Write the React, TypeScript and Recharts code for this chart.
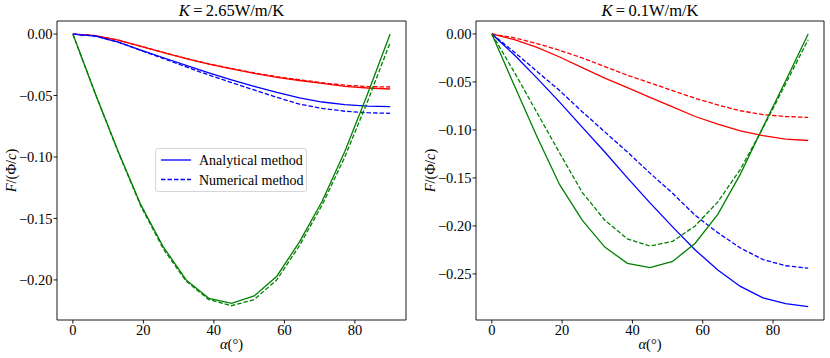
import {
  LineChart,
  Line,
  XAxis,
  YAxis,
  Legend,
  Customized,
} from 'recharts';

// incidence angle (deg), 15 samples
const ALPHA = [0, 6.43, 12.86, 19.29, 25.71, 32.14, 38.57, 45, 51.43, 57.86, 64.29, 70.71, 77.14, 83.57, 90];

// K = 2.65 W/m/K
const hiRedAna = [0, -0.0013, -0.005, -0.01, -0.0152, -0.02, -0.0245, -0.0283, -0.032, -0.0352, -0.0378, -0.0402, -0.0425, -0.0439, -0.0447];
const hiRedNum = [0, -0.0013, -0.005, -0.0099, -0.015, -0.0198, -0.0243, -0.028, -0.0316, -0.0347, -0.0372, -0.0396, -0.0416, -0.0427, -0.0431];
const hiBlueAna = [0, -0.0017, -0.0065, -0.013, -0.0193, -0.0255, -0.0315, -0.0372, -0.0425, -0.0475, -0.052, -0.0553, -0.0575, -0.0587, -0.0591];
const hiBlueNum = [0, -0.0017, -0.0066, -0.0133, -0.02, -0.0268, -0.0333, -0.0395, -0.0455, -0.0515, -0.057, -0.0605, -0.0628, -0.064, -0.0645];
const hiGreenAna = [0, -0.049, -0.0955, -0.139, -0.1734, -0.2, -0.215, -0.219, -0.213, -0.197, -0.169, -0.136, -0.0955, -0.049, 0];
const hiGreenNum = [0, -0.049, -0.096, -0.14, -0.175, -0.201, -0.216, -0.221, -0.216, -0.2, -0.172, -0.139, -0.1, -0.055, -0.007];

// K = 0.1 W/m/K
const loRedAna = [0, -0.006, -0.014, -0.024, -0.035, -0.046, -0.056, -0.066, -0.076, -0.086, -0.094, -0.101, -0.106, -0.1095, -0.111];
const loRedNum = [0, -0.004, -0.01, -0.017, -0.025, -0.034, -0.043, -0.051, -0.059, -0.067, -0.074, -0.08, -0.084, -0.086, -0.087];
const loBlueAna = [0, -0.022, -0.046, -0.071, -0.097, -0.123, -0.15, -0.176, -0.201, -0.225, -0.246, -0.263, -0.275, -0.281, -0.284];
const loBlueNum = [0, -0.019, -0.039, -0.059, -0.081, -0.102, -0.123, -0.145, -0.166, -0.189, -0.207, -0.223, -0.235, -0.2415, -0.244];
const loGreenAna = [0, -0.054, -0.107, -0.157, -0.194, -0.222, -0.239, -0.2435, -0.237, -0.218, -0.188, -0.146, -0.097, -0.049, 0];
const loGreenNum = [0, -0.04, -0.082, -0.124, -0.165, -0.194, -0.2135, -0.221, -0.216, -0.2, -0.175, -0.141, -0.098, -0.052, -0.006];

const X_TICKS = [0, 20, 40, 60, 80];
const HI_Y_TICKS = [0, -0.05, -0.1, -0.15, -0.2];
const LO_Y_TICKS = [0, -0.05, -0.1, -0.15, -0.2, -0.25];

const FONT = '"Liberation Serif", "DejaVu Serif", serif';
const serif = { fontFamily: FONT };

const fmtY = (v: number) => (v < 0 ? '\u2212' + Math.abs(v).toFixed(2) : v.toFixed(2));

function buildRows(series: number[][]) {
  return ALPHA.map((a, i) => ({
    a,
    rs: series[0][i],
    rd: series[1][i],
    bs: series[2][i],
    bd: series[3][i],
    gs: series[4][i],
    gd: series[5][i],
  }));
}

const hiRows = buildRows([hiRedAna, hiRedNum, hiBlueAna, hiBlueNum, hiGreenAna, hiGreenNum]);
const loRows = buildRows([loRedAna, loRedNum, loBlueAna, loBlueNum, loGreenAna, loGreenNum]);

const LegendBox = () => (
  <div
    style={{
      width: 150,
      height: 42,
      border: '1px solid #d6d6d6',
      borderRadius: 3,
      background: 'rgba(255,255,255,0.8)',
    }}
  >
    <svg width={150} height={42} style={{ display: 'block' }}>
      <line x1={5} x2={35} y1={11} y2={11} stroke="#0000ff" strokeWidth={1.3} />
      <text x={43} y={16} fontSize={14} style={serif}>Analytical method</text>
      <line x1={5} x2={35} y1={30.5} y2={30.5} stroke="#0000ff" strokeWidth={1.3} strokeDasharray="4.5 2" />
      <text x={43} y={35.5} fontSize={14} style={serif}>Numerical method</text>
    </svg>
  </div>
);

interface PanelProps {
  rows: ReturnType<typeof buildRows>;
  yDomain: [number, number];
  yTicks: number[];
  kText: string;
  marginLeft: number;
  marginRight: number;
  yLabelX: number;
  showLegend?: boolean;
}

// plot frame: top 21, bottom 320; axis widths eat into the margins
const Y_W = 50;
const X_H = 30;
const TOP_H = 5;
const RIGHT_W = 5;

function Panel({ rows, yDomain, yTicks, kText, marginLeft, marginRight, yLabelX, showLegend }: PanelProps) {
  const plotCx = marginLeft + (415 - marginLeft - marginRight) / 2;
  const texts = () => (
    <g fill="#000">
      <text x={plotCx} y={16} textAnchor="middle" fontSize={16.5} style={serif}>
        <tspan fontStyle="italic">K</tspan>
        <tspan>{'\u2009=\u2009' + kText}</tspan>
      </text>
      <text x={plotCx} y={349} textAnchor="middle" fontSize={14.5} style={serif}>
        <tspan fontStyle="italic">α</tspan>
        <tspan>(°)</tspan>
      </text>
      <text
        x={yLabelX}
        y={170.5}
        textAnchor="middle"
        fontSize={14.5}
        style={serif}
        transform={`rotate(-90 ${yLabelX} 170.5)`}
        dy={5}
      >
        <tspan fontStyle="italic">F</tspan>
        <tspan>/(Φ/</tspan>
        <tspan fontStyle="italic">c</tspan>
        <tspan>)</tspan>
      </text>
    </g>
  );

  const lineProps = { dot: false, isAnimationActive: false, strokeWidth: 1.3, type: 'linear' as const };

  return (
    <LineChart
      width={415}
      height={358}
      data={rows}
      margin={{ top: 21 - TOP_H, right: marginRight - RIGHT_W, bottom: 38 - X_H, left: marginLeft - Y_W }}
      style={serif}
    >
      <XAxis
        dataKey="a"
        type="number"
        domain={[-4.5, 94.5]}
        ticks={X_TICKS}
        allowDataOverflow
        height={X_H}
        tickSize={3.5}
        tickMargin={1.5}
        stroke="#000"
        strokeWidth={0.9}
        tick={{ fill: '#000', fontSize: 14.5, fontFamily: FONT }}
      />
      <XAxis
        xAxisId="top"
        orientation="top"
        dataKey="a"
        type="number"
        domain={[-4.5, 94.5]}
        height={TOP_H}
        tick={false}
        tickLine={false}
        stroke="#000"
        strokeWidth={0.9}
      />
      <YAxis
        type="number"
        domain={yDomain}
        ticks={yTicks}
        allowDataOverflow
        width={Y_W}
        tickSize={3.5}
        tickMargin={1}
        tickFormatter={fmtY}
        stroke="#000"
        strokeWidth={0.9}
        tick={{ fill: '#000', fontSize: 14.5, fontFamily: FONT }}
      />
      <YAxis
        yAxisId="right"
        orientation="right"
        type="number"
        domain={yDomain}
        width={RIGHT_W}
        tick={false}
        tickLine={false}
        stroke="#000"
        strokeWidth={0.9}
      />
      <Line dataKey="rs" stroke="#ff0000" {...lineProps} />
      <Line dataKey="rd" stroke="#ff0000" strokeDasharray="4.5 2" {...lineProps} />
      <Line dataKey="bs" stroke="#0000ff" {...lineProps} />
      <Line dataKey="bd" stroke="#0000ff" strokeDasharray="4.5 2" {...lineProps} />
      <Line dataKey="gs" stroke="#008000" {...lineProps} />
      <Line dataKey="gd" stroke="#008000" strokeDasharray="4.5 2" {...lineProps} />
      {showLegend && (
        <Legend
          layout="vertical"
          align="center"
          verticalAlign="middle"
          content={<LegendBox />}
          wrapperStyle={{ left: 155, top: 148, width: 152, height: 44 }}
        />
      )}
      <Customized component={texts} />
    </LineChart>
  );
}

export default function App() {
  return (
    <div style={{ position: 'absolute', left: 0, top: 0, width: 830, height: 358, background: '#fff' }}>
      <div style={{ position: 'absolute', left: 0, top: 0 }}>
        <Panel
          rows={hiRows}
          yDomain={[-0.2326, 0.0106]}
          yTicks={HI_Y_TICKS}
          kText="2.65W/m/K"
          marginLeft={57}
          marginRight={9}
          yLabelX={11}
          showLegend
        />
      </div>
      <div style={{ position: 'absolute', left: 415, top: 0 }}>
        <Panel
          rows={loRows}
          yDomain={[-0.298, 0.0135]}
          yTicks={LO_Y_TICKS}
          kText="0.1W/m/K"
          marginLeft={61}
          marginRight={6}
          yLabelX={15}
        />
      </div>
    </div>
  );
}
